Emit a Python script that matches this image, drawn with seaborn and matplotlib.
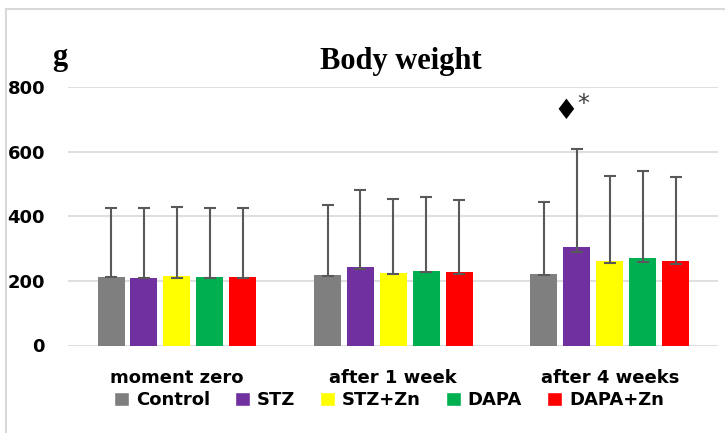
import numpy as np
import pandas as pd
import matplotlib.pyplot as plt
import seaborn as sns
from matplotlib.patches import Rectangle, Patch

times = ["moment zero", "after 1 week", "after 4 weeks"]
groups = ["Control", "STZ", "STZ+Zn", "DAPA", "DAPA+Zn"]
colors = ["#7F7F7F", "#7030A0", "#FFFF00", "#00B050", "#FF0000"]

# mean body weight (g) per group, one list per time point
means = {
    "moment zero": [212, 210, 215, 213, 213],
    "after 1 week": [217, 242, 224, 230, 226],
    "after 4 weeks": [222, 305, 263, 270, 262],
}
# top of the error bar
err_top = {
    "moment zero": [427, 424, 430, 427, 427],
    "after 1 week": [435, 482, 452, 460, 450],
    "after 4 weeks": [443, 608, 525, 541, 522],
}
# lower cap of the error bar
err_low = {
    "moment zero": [211, 208, 208, 208, 210],
    "after 1 week": [214, 238, 220, 226, 222],
    "after 4 weeks": [218, 290, 254, 257, 251],
}

rows = []
for t in times:
    for g, m, hi, lo in zip(groups, means[t], err_top[t], err_low[t]):
        rows.append({"time": t, "group": g, "weight": m, "hi": hi, "lo": lo})
df = pd.DataFrame(rows)

sns.set_style("white")
plt.rcParams["font.family"] = ["DejaVu Sans"]
plt.rcParams["text.color"] = "black"
plt.rcParams["xtick.color"] = "black"
plt.rcParams["ytick.color"] = "black"

fig = plt.figure(figsize=(7.25, 4.33), dpi=100)
ax = fig.add_axes([68 / 725, 1 - 345.5 / 433, 650 / 725, 258.5 / 433])

sns.barplot(df, x="time", y="weight", hue="group", palette=colors,
            order=times, hue_order=groups, errorbar=None, width=0.76, gap=0.18,
            saturation=1, linewidth=0, legend=False, ax=ax)

for cont, g in zip(ax.containers, groups):
    sub = df[df["group"] == g].set_index("time").loc[times]
    xs = [p.get_x() + p.get_width() / 2 for p in cont.patches]
    ax.errorbar(xs, sub["weight"],
                yerr=[sub["weight"] - sub["lo"], sub["hi"] - sub["weight"]],
                fmt="none", ecolor="#595959", elinewidth=1.5, capsize=4.5, capthick=1.5)

ax.set_ylim(0, 800)
ax.set_xlim(-0.503, 2.50)
ax.set_yticks([0, 200, 400, 600, 800])
ax.yaxis.grid(True, color="#D9D9D9", linewidth=1.2)
ax.set_axisbelow(True)
for s in ax.spines.values():
    s.set_visible(False)
ax.tick_params(axis="both", length=0, labelsize=13)
ax.tick_params(axis="y", pad=16.5)
ax.tick_params(axis="x", pad=17)
for lab in ax.get_xticklabels() + ax.get_yticklabels():
    lab.set_fontweight("bold")
ax.set_xlabel("")
ax.set_ylabel("")

# significance marks above STZ at 4 weeks
ax.text(1.797, 727, "\u2666", ha="center", va="center", fontsize=20, color="black")
ax.text(1.878, 748, "*", ha="center", va="center", fontsize=17, color="#404040")

fig.text(401 / 725, 1 - 62 / 433, "Body weight", ha="center", va="center",
         fontsize=22, fontweight="bold", family=["Liberation Serif"])
fig.text(60 / 725, 1 - 58 / 433, "g", ha="center", va="center",
         fontsize=22, fontweight="bold", family=["Liberation Serif"])

handles = [Patch(facecolor=c, label=g) for g, c in zip(groups, colors)]
fig.legend(handles=handles, loc="center", bbox_to_anchor=(389 / 725, 1 - 400 / 433),
           ncol=5, frameon=False, prop={"size": 13, "weight": "bold"},
           handlelength=0.8, handleheight=0.8, handletextpad=0.4, columnspacing=1.4)

fig.add_artist(Rectangle((6 / 725, -0.1), 2, 1 - 9 / 433 + 0.1, transform=fig.transFigure,
                         fill=False, edgecolor="#D9D9D9", linewidth=1.5))

fig.savefig("out.png", dpi=100)
